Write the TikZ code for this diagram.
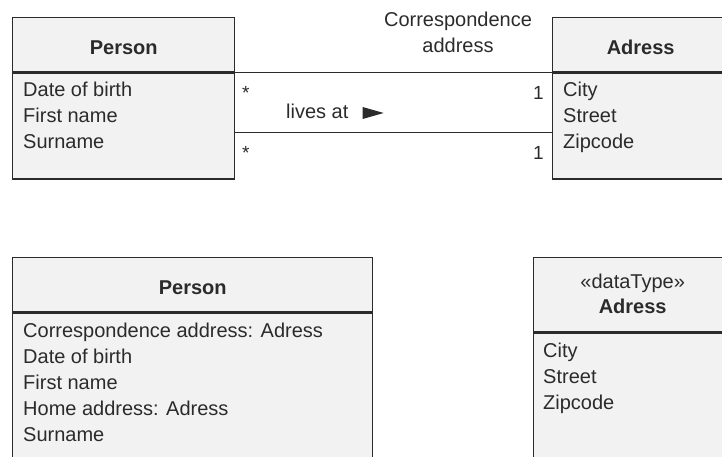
\documentclass[tikz,border=0pt]{standalone}
\usepackage{fontspec}
\setmainfont{Liberation Sans}
\usetikzlibrary{arrows}
\definecolor{boxgray}{HTML}{F2F2F2}
\definecolor{ink}{HTML}{2B2B2B}

\begin{document}
\begin{tikzpicture}[x=1pt, y=-1pt]
      \tikzstyle{every node} = [inner sep = 0pt, text = ink]
      \tikzstyle{box} = [draw = ink, fill = boxgray, line width = 1.4pt, anchor = north west]
      \tikzstyle{title} = [anchor = base, font = \fontsize{20}{26}\selectfont\bfseries]
      \tikzstyle{attr} = [anchor = base west, font = \fontsize{20}{26}\selectfont]
      \tikzstyle{mult} = [font = \fontsize{19}{24}\selectfont]
      \tikzstyle{assoc} = [draw = ink, line width = 1.4pt]
      \useasboundingbox (0,0) rectangle (722,457);
      % upper model: two classes and two associations
      \node[box, minimum width = 222pt, minimum height = 54pt] (p1h) at (12,17) {};
      \node[box, minimum width = 222pt, minimum height = 106pt] (p1b) at (p1h.south west) {};
      \node[box, minimum width = 176pt, minimum height = 54pt] (a1h) at (552,17) {};
      \node[box, minimum width = 176pt, minimum height = 106pt] (a1b) at (a1h.south west) {};
      \node[title] (p1t) at ([yshift = -10pt]p1h.center) {Person};
      \node[title] (a1t) at ([yshift = -10pt]a1h.center) {Adress};
      \foreach \t [count = \i] in {Date of birth, First name, Surname}{
        \node[attr] (p1r\i) at (23, 71 + 26*\i) {\t};
      }
      \foreach \t [count = \i] in {City, Street, Zipcode}{
        \node[attr] (a1r\i) at (563, 71 + 26*\i) {\t};
      }
      \path[assoc]
      (p1b.north east) edge (a1b.north west);
      \path[assoc]
      ([yshift = -60pt]p1b.north east) edge ([yshift = -60pt]a1b.north west);
      \node[mult, anchor = base west] (m1) at (242,100) {*};
      \node[mult, anchor = base west] (m2) at (242,160) {*};
      \node[mult, anchor = base east] (m3) at (544,100) {1};
      \node[mult, anchor = base east] (m4) at (544,160) {1};
      \node[align = center, font = \fontsize{20}{26}\selectfont] (role) at (458,32) {Correspondence\\address};
      \node[attr] (lv) at (286,119) {lives at};
      \fill[ink] ([shift = {(14pt,12pt)}]lv.base east) -- ++(21,6) -- ++(-21,6) -- cycle;
      % lower model: address as a data type
      \node[box, minimum width = 360pt, minimum height = 54pt] (p2h) at (12,257) {};
      \node[box, minimum width = 360pt, minimum height = 160pt] (p2b) at (p2h.south west) {};
      \node[box, minimum width = 198pt, minimum height = 74pt] (a2h) at (533,257) {};
      \node[box, minimum width = 198pt, minimum height = 140pt] (a2b) at (a2h.south west) {};
      \node[title] (p2t) at ([yshift = -10pt]p2h.center) {Person};
      \node[title, font = \fontsize{20}{26}\selectfont] (a2s) at ([yshift = 6pt]a2h.center) {«dataType»};
      \node[title] (a2t) at ([yshift = -19pt]a2h.center) {Adress};
      \foreach \t [count = \i] in {Correspondence address: Adress, Date of birth, First name, Home address: Adress, Surname}{
        \node[attr] (p2r\i) at (23, 311 + 26*\i) {\t};
      }
      \foreach \t [count = \i] in {City, Street, Zipcode}{
        \node[attr] (a2r\i) at (543, 331 + 26*\i) {\t};
      }
    \end{tikzpicture}
\end{document}
